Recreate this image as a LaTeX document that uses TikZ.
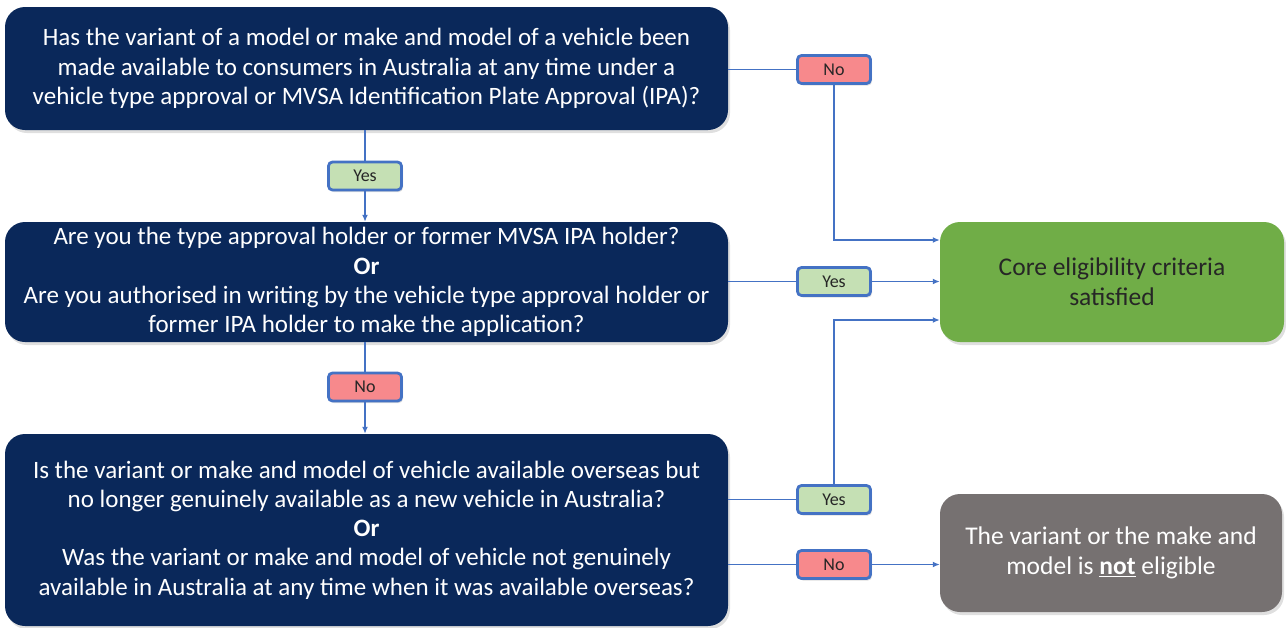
\documentclass[tikz,border=0pt]{standalone}
\usepackage{fontspec}
\setmainfont{Carlito}
\usetikzlibrary{arrows.meta,shadows}
\definecolor{navy}{RGB}{10,40,90}
\definecolor{okgreen}{RGB}{112,173,71}
\definecolor{nogray}{RGB}{118,113,113}
\definecolor{pinklab}{RGB}{247,137,140}
\definecolor{greenlab}{RGB}{197,224,180}
\definecolor{linkblue}{RGB}{68,114,196}
\tikzset{
  qbox/.style={draw=none, fill=navy, rounded corners=20pt, text=white, align=center,
    font=\fontsize{25}{29.3}\selectfont, inner sep=0pt,
    drop shadow={shadow xshift=2pt, shadow yshift=-3pt, opacity=0.25}},
  endbox/.style={draw=none, rounded corners=20pt, align=center,
    font=\fontsize{25.5}{30}\selectfont, inner sep=0pt,
    drop shadow={shadow xshift=2pt, shadow yshift=-3pt, opacity=0.25}},
  lab/.style={draw=linkblue, line width=2.8pt, rounded corners=4pt, minimum width=73pt,
    minimum height=28pt, inner sep=0pt, font=\fontsize{18}{20}\selectfont, text=black!85,
    drop shadow={shadow xshift=1.5pt, shadow yshift=-2pt, opacity=0.25}},
  nolab/.style={lab, fill=pinklab},
  yeslab/.style={lab, fill=greenlab},
  link/.style={draw=linkblue, line width=1.6pt},
  arr/.style={link, -{Latex[length=7pt,width=6pt]}}
}
\begin{document}
\begin{tikzpicture}[x=1pt,y=-1pt]
\useasboundingbox (0,0) rectangle (1286,627);
% question boxes
\node[qbox, minimum width=723pt, minimum height=123pt] (q1) at (366.5,68.5)
  {Has the variant of a model or make and model of a vehicle been\\
   made available to consumers in Australia at any time under a\\
   vehicle type approval or MVSA Identification Plate Approval (IPA)?};
\node[qbox, minimum width=723pt, minimum height=120pt] (q2) at (366.5,282)
  {Are you the type approval holder or former MVSA IPA holder?\\
   \textbf{Or}\\
   Are you authorised in writing by the vehicle type approval holder or\\
   former IPA holder to make the application?};
\node[qbox, minimum width=723pt, minimum height=192pt] (q3) at (366.5,530)
  {Is the variant or make and model of vehicle available overseas but\\
   no longer genuinely available as a new vehicle in Australia?\\
   \textbf{Or}\\
   Was the variant or make and model of vehicle not genuinely\\
   available in Australia at any time when it was available overseas?};
% outcome boxes
\node[endbox, fill=okgreen, text=black!85, minimum width=344pt, minimum height=120pt] (ok) at (1112,282)
  {Core eligibility criteria\\satisfied};
\node[endbox, fill=nogray, text=white, minimum width=342pt, minimum height=118pt] (ne) at (1111,553)
  {The variant or the make and\\model is \underline{\textbf{not}} eligible};
% labels
\node[nolab] (n1) at (834,69.5) {No};
\node[yeslab] (y1) at (365,176) {Yes};
\node[yeslab] (y2) at (834,281.5) {Yes};
\node[nolab] (n2) at (365,387) {No};
\node[yeslab] (y3) at (834,499.5) {Yes};
\node[nolab] (n3) at (834,564.5) {No};
% connectors
\draw[link] (q1.east |- n1) -- (n1.west);
\draw[arr] (n1.south) |- (ok.west |- 0,240);
\draw[link] (q1.south -| y1) -- (y1.north);
\draw[arr] (y1.south) -- (q2.north -| y1);
\draw[link] (q2.east |- y2) -- (y2.west);
\draw[arr] (y2.east) -- (ok.west |- y2);
\draw[link] (q2.south -| n2) -- (n2.north);
\draw[arr] (n2.south) -- (q3.north -| n2);
\draw[link] (q3.east |- y3) -- (y3.west);
\draw[arr] (y3.north) |- (ok.west |- 0,320);
\draw[link] (q3.east |- n3) -- (n3.west);
\draw[arr] (n3.east) -- (ne.west |- n3);
\end{tikzpicture}
\end{document}
